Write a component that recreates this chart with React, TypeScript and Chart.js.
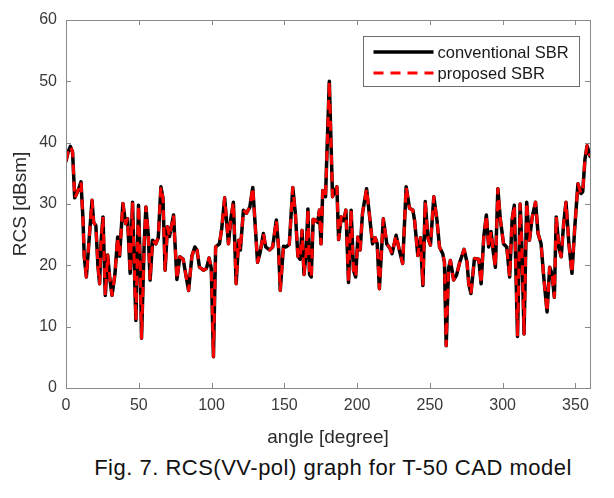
import React, { useEffect, useRef } from "react";
import { Chart, registerables } from "chart.js";

Chart.register(...registerables);

// ---- data ----
const angleDeg = [
  0, 1.5, 3, 4.5, 6, 7, 8.3, 10.3, 11.7, 12.5, 14, 15.5, 17.9, 19, 20.5, 22, 23.1, 24, 25.4, 27,
  28.6, 30, 31.6, 33.6, 35.5, 36.8, 39.1, 41, 42.3, 44.1, 45.7, 46.9, 48, 49.8, 51, 51.9, 53.7, 54.9, 56.5, 57.8,
  59.5, 61.7, 63.4, 65.2, 66.6, 68.1, 69.7, 71.1, 73.9, 74.8, 76.2, 78.2, 80.5, 82.3, 84.2, 86.5, 88.5, 90, 91.7, 94.5,
  96.5, 98.3, 99.8, 101.3, 102.8, 105.4, 107, 109, 111.6, 113.2, 115, 116.9, 118.6, 119.8, 121.9, 124, 126.3, 128.3, 130, 131.6,
  133.3, 135.6, 137.2, 139.8, 142, 144.5, 146, 147.2, 149.4, 151.2, 153.4, 155.8, 157.6, 159.3, 160.8, 162.2, 163.5, 165, 166.2, 167.3,
  168.5, 169.8, 171.3, 172.9, 174.1, 175.2, 176.4, 178.3, 180.9, 183.1, 184.5, 186.1, 187.3, 189.1, 190.7, 192.3, 194.1, 195.9, 197.5, 199,
  200.5, 202.1, 203.7, 206.5, 208.8, 210.6, 212.5, 213.8, 215.3, 218, 220.4, 222.5, 224, 226.8, 229, 231.3, 233.7, 236, 238.3, 239.5,
  241.7, 243.5, 245.2, 246.8, 248.6, 250.4, 252.7, 254.8, 256.6, 258.8, 260, 261.2, 262.8, 264.1, 266.3, 268.3, 270.5, 271.8, 273.5, 275.5,
  276.7, 278.2, 280.6, 283.6, 285.2, 287, 288.8, 290.4, 292, 293.4, 295, 296.7, 298.4, 300.6, 302.8, 304.8, 306.5, 308, 310.2, 312,
  313.2, 314.7, 316.5, 318.4, 320.3, 322.6, 324.3, 326.4, 328.2, 330.5, 332.3, 334, 335.5, 336.8, 338.6, 340.2, 341.9, 343.5, 345.5, 347.6,
  349.4, 351.7, 353.8, 355, 356.5, 358, 360,
];

const conventionalSbr = [
  37, 38.5, 39.4, 38.5, 31, 31.5, 32.2, 33.6, 27.4, 21.5, 18.1, 23, 30.6, 27, 26.5, 19.7, 17, 23.5, 27.9, 15.1,
  21.7, 18.1, 15.1, 18.5, 24.6, 21.5, 30.1, 26.8, 27.6, 18.7, 30.3, 20.3, 11, 29.8, 20.3, 8.1, 23.5, 29.5, 25, 17.6,
  24.1, 23.5, 24.5, 32.8, 31, 19.2, 26.3, 24.7, 28.2, 24, 17.7, 21.4, 21, 18.5, 15.9, 21.5, 23, 22.5, 19.7, 19.2,
  19.5, 21.2, 19.5, 5.1, 23, 23.5, 26, 31, 23.5, 27.5, 30.3, 17, 24.1, 22.5, 29, 28.5, 29.5, 32.7, 26.5, 20.5,
  22, 25.2, 23, 22.5, 23, 27.4, 23, 15.9, 23.1, 23, 23.4, 32.7, 28.4, 21.5, 21, 25.7, 18.5, 22, 29.2, 18.5,
  18.1, 27.5, 27.4, 27, 29, 23.5, 32.2, 31.2, 50, 31.2, 32, 32.8, 24.2, 27.9, 27.3, 29, 17.2, 29, 19.2, 18.1,
  24.6, 22.5, 28.5, 32.5, 27.5, 23.5, 24.5, 23.5, 16.2, 27.6, 23.5, 22.8, 21.9, 24.9, 22.5, 20.3, 32.8, 29.3, 29, 27.3,
  21.6, 24.5, 16.7, 30.4, 24.5, 23.3, 31.2, 27.5, 23, 21.9, 20.5, 6.9, 19.5, 20.8, 17.6, 18.4, 20.5, 21.4, 22.6, 20.5,
  17, 15.4, 21.1, 21, 17, 24.6, 28.2, 23, 25.5, 22.5, 19.7, 32.5, 27.5, 23.5, 23, 18.1, 27.5, 29.8, 8.4, 30,
  23, 8.8, 30.3, 24.1, 27.9, 30.3, 25.2, 23.5, 18.1, 12.4, 19.7, 18.5, 14.8, 27.9, 23, 21.4, 26.8, 30.3, 23.5, 18.7,
  25.7, 33.3, 31.7, 32, 37.2, 39.5, 37.8,
];

// the proposed-SBR curve lies on top of the conventional one in the figure
const proposedSbr = [
  37, 38.5, 39.4, 38.5, 31, 31.5, 32.2, 33.6, 27.4, 21.5, 18.1, 23, 30.6, 27, 26.5, 19.7, 17, 23.5, 27.9, 15.1,
  21.7, 18.1, 15.1, 18.5, 24.6, 21.5, 30.1, 26.8, 27.6, 18.7, 30.3, 20.3, 11, 29.8, 20.3, 8.1, 23.5, 29.5, 25, 17.6,
  24.1, 23.5, 24.5, 32.8, 31, 19.2, 26.3, 24.7, 28.2, 24, 17.7, 21.4, 21, 18.5, 15.9, 21.5, 23, 22.5, 19.7, 19.2,
  19.5, 21.2, 19.5, 5.1, 23, 23.5, 26, 31, 23.5, 27.5, 30.3, 17, 24.1, 22.5, 29, 28.5, 29.5, 32.7, 26.5, 20.5,
  22, 25.2, 23, 22.5, 23, 27.4, 23, 15.9, 23.1, 23, 23.4, 32.7, 28.4, 21.5, 21, 25.7, 18.5, 22, 29.2, 18.5,
  18.1, 27.5, 27.4, 27, 29, 23.5, 32.2, 31.2, 50, 31.2, 32, 32.8, 24.2, 27.9, 27.3, 29, 17.2, 29, 19.2, 18.1,
  24.6, 22.5, 28.5, 32.5, 27.5, 23.5, 24.5, 23.5, 16.2, 27.6, 23.5, 22.8, 21.9, 24.9, 22.5, 20.3, 32.8, 29.3, 29, 27.3,
  21.6, 24.5, 16.7, 30.4, 24.5, 23.3, 31.2, 27.5, 23, 21.9, 20.5, 6.9, 19.5, 20.8, 17.6, 18.4, 20.5, 21.4, 22.6, 20.5,
  17, 15.4, 21.1, 21, 17, 24.6, 28.2, 23, 25.5, 22.5, 19.7, 32.5, 27.5, 23.5, 23, 18.1, 27.5, 29.8, 8.4, 30,
  23, 8.8, 30.3, 24.1, 27.9, 30.3, 25.2, 23.5, 18.1, 12.4, 19.7, 18.5, 14.8, 27.9, 23, 21.4, 26.8, 30.3, 23.5, 18.7,
  25.7, 33.3, 31.7, 32, 37.2, 39.5, 37.8,
];

const xTickValues = [0, 50, 100, 150, 200, 250, 300, 350];
const yTickValues = [0, 10, 20, 30, 40, 50, 60];
const seriesLabels = ["conventional SBR", "proposed SBR"];
const xAxisTitle = "angle [degree]";
const yAxisTitle = "RCS [dBsm]";
const captionText = "Fig. 7. RCS(VV-pol) graph for T-50 CAD model";

const FONT = "'Liberation Sans', Arial, Helvetica, sans-serif";
const W = 614;
const H = 455;

const framePlugin = {
  id: "matlabFrame",
  afterDatasetsDraw(chart: any) {
    const { ctx, chartArea: a, scales } = chart;
    ctx.save();
    ctx.strokeStyle = "#8a8a8a";
    ctx.lineWidth = 1;
    const L = 5;
    ctx.beginPath();
    for (const v of xTickValues) {
      const x = Math.round(scales.x.getPixelForValue(v)) + 0.5;
      ctx.moveTo(x, a.bottom);
      ctx.lineTo(x, a.bottom - L);
      ctx.moveTo(x, a.top);
      ctx.lineTo(x, a.top + L);
    }
    for (const v of yTickValues) {
      const y = Math.round(scales.y.getPixelForValue(v)) + 0.5;
      ctx.moveTo(a.left, y);
      ctx.lineTo(a.left + L, y);
      ctx.moveTo(a.right, y);
      ctx.lineTo(a.right - L, y);
    }
    ctx.stroke();
    ctx.strokeRect(
      Math.round(a.left) + 0.5,
      Math.round(a.top) + 0.5,
      Math.round(a.right) - Math.round(a.left),
      Math.round(a.bottom) - Math.round(a.top)
    );
    ctx.restore();
  },
};

const legendPlugin = {
  id: "insideLegend",
  afterDraw(chart: any) {
    const { ctx, chartArea: a } = chart;
    const ds = chart.data.datasets;
    const bw = 216;
    const bh = 50;
    const bx = Math.round(a.right - 11 - bw) + 0.5;
    const by = Math.round(a.top + 16) + 0.5;
    ctx.save();
    ctx.fillStyle = "#ffffff";
    ctx.fillRect(bx, by, bw, bh);
    ctx.strokeStyle = "#6e6e6e";
    ctx.lineWidth = 1;
    ctx.strokeRect(bx, by, bw, bh);
    const rows = [ds.find((d: any) => d.label === seriesLabels[0]), ds.find((d: any) => d.label === seriesLabels[1])];
    rows.forEach((d: any, i: number) => {
      const cy = by + 15.5 + i * 21;
      ctx.beginPath();
      ctx.strokeStyle = d.borderColor;
      ctx.lineWidth = d.borderWidth;
      ctx.setLineDash(d.borderDash || []);
      ctx.moveTo(bx + 10, cy);
      ctx.lineTo(bx + 70, cy);
      ctx.stroke();
      ctx.setLineDash([]);
      ctx.fillStyle = "#1a1a1a";
      ctx.font = `16.5px ${FONT}`;
      ctx.textBaseline = "middle";
      ctx.textAlign = "left";
      ctx.fillText(d.label, bx + 74, cy + 1);
    });
    ctx.restore();
  },
};

export default function App() {
  const ref = useRef<HTMLCanvasElement | null>(null);

  useEffect(() => {
    if (!ref.current) return;
    const chart = new Chart(ref.current, {
      type: "line",
      data: {
        datasets: [
          {
            label: seriesLabels[0],
            data: angleDeg.map((x, i) => ({ x, y: conventionalSbr[i] })),
            borderColor: "#000000",
            borderWidth: 3.5,
            borderJoinStyle: "round",
            borderCapStyle: "round",
            pointRadius: 0,
            tension: 0,
            order: 1,
          },
          {
            label: seriesLabels[1],
            data: angleDeg.map((x, i) => ({ x, y: proposedSbr[i] })),
            borderColor: "#ff0000",
            borderWidth: 3,
            borderDash: [10, 7],
            borderJoinStyle: "round",
            pointRadius: 0,
            tension: 0,
            order: 0,
          },
        ],
      },
      options: {
        animation: false,
        responsive: false,
        parsing: false as any,
        layout: { padding: { top: 20, right: 24, left: 0, bottom: 0 } },
        plugins: { legend: { display: false }, tooltip: { enabled: false } },
        scales: {
          x: {
            type: "linear",
            min: 0,
            max: 360,
            grid: { display: false, drawTicks: false },
            border: { display: false },
            afterBuildTicks: (s: any) => {
              s.ticks = xTickValues.map((v) => ({ value: v }));
            },
            afterFit: (s: any) => {
              s.height = H - 388;
            },
            ticks: {
              padding: 8,
              autoSkip: false,
              maxRotation: 0,
              color: "#3a3a3a",
              font: { family: FONT, size: 16 },
            },
            title: {
              display: true,
              text: xAxisTitle,
              color: "#2a2a2a",
              font: { family: FONT, size: 19 },
              padding: { top: 0, bottom: 6 },
            },
          },
          y: {
            type: "linear",
            min: 0,
            max: 60,
            grid: { display: false, drawTicks: false },
            border: { display: false },
            afterBuildTicks: (s: any) => {
              s.ticks = yTickValues.map((v) => ({ value: v }));
            },
            afterFit: (s: any) => {
              s.width = 66;
            },
            ticks: {
              padding: 9,
              color: "#3a3a3a",
              font: { family: FONT, size: 16 },
            },
            title: {
              display: true,
              text: yAxisTitle,
              color: "#2a2a2a",
              font: { family: FONT, size: 19 },
              padding: { top: 9, bottom: 0 },
            },
          },
        },
      },
      plugins: [framePlugin, legendPlugin],
    });
    return () => chart.destroy();
  }, []);

  return (
    <div style={{ position: "fixed", left: 0, top: 0, width: W, height: 498, background: "#ffffff" }}>
      <canvas ref={ref} width={W} height={H} style={{ display: "block", width: W, height: H }} />
      <div
        style={{
          position: "absolute",
          left: 0,
          top: 455,
          width: W,
          paddingLeft: 52,
          boxSizing: "border-box",
          textAlign: "center",
          fontFamily: FONT,
          fontSize: 22,
          letterSpacing: 0.5,
          color: "#111111",
          lineHeight: "26px",
          whiteSpace: "nowrap",
        }}
      >
        {captionText}
      </div>
    </div>
  );
}
